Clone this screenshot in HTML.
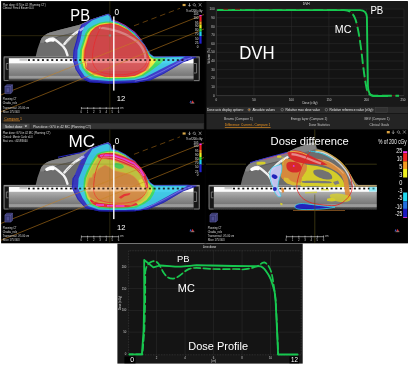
<!DOCTYPE html>
<html lang="en"><head><meta charset="utf-8"><title>PB vs MC dose comparison</title>
<style>html,body{margin:0;padding:0;background:#fff;}svg{display:block}text{font-family:"Liberation Sans",sans-serif;}</style>
</head><body>
<svg width="409" height="366" viewBox="0 0 409 366">
<defs>
<linearGradient id="couchg" x1="0" y1="0" x2="0" y2="1"><stop offset="0" stop-color="#bcbcbc"/><stop offset="0.22" stop-color="#b0b0b0"/><stop offset="0.5" stop-color="#8e8e8e"/><stop offset="0.74" stop-color="#787878"/><stop offset="0.77" stop-color="#9c9c9c"/><stop offset="0.86" stop-color="#989898"/><stop offset="0.89" stop-color="#5c5c5c"/><stop offset="1" stop-color="#1c1c1c"/></linearGradient>
<clipPath id="cpAl"><rect x="1" y="1" width="201" height="113"/></clipPath>
<clipPath id="cpCl"><rect x="1" y="1" width="201" height="114.5"/></clipPath>
<clipPath id="cpDl"><rect x="2" y="1" width="169.8" height="114.5"/></clipPath>
<clipPath id="cpA"><rect x="1" y="1" width="203.5" height="113"/></clipPath>
<clipPath id="cpC"><rect x="1" y="129.5" width="203.5" height="113.8"/></clipPath>
<clipPath id="cpD"><rect x="206" y="129.5" width="201.9" height="113.8"/></clipPath>
<filter id="bl" x="-5%" y="-5%" width="110%" height="110%"><feGaussianBlur stdDeviation="0.45"/></filter>
<filter id="bl2" x="-5%" y="-5%" width="110%" height="110%"><feGaussianBlur stdDeviation="0.3"/></filter>
</defs>
<rect width="409" height="366" fill="#ffffff"/>
<rect x="1.1" y="1.1" width="406.8" height="242.2" fill="#000000"/>
<g id="panelPB" clip-path="url(#cpA)">
<g filter="url(#bl)">
<g transform="translate(0,0)" clip-path="url(#cpAl)">
<polygon points="35.5,57.2 37.5,49.0 39.6,43.0 41.5,38.5 44.0,35.7 47.0,33.8 49.9,32.4 60.0,29.8 70.0,27.2 79.6,24.7 86.0,22.0 91.0,19.6 100.0,16.4 105.0,14.8 108.2,13.8 110.6,15.6 112.0,20.0 118.0,22.0 125.0,25.5 135.0,32.6 144.6,44.4 150.4,54.0 154.4,57.2" fill="#6d6d6d"/>
<polygon points="40.6,40.5 41.5,38.5 44.0,35.7 47.0,33.8 49.9,32.4 60.0,29.8 79.6,24.7 91.0,19.6 100.0,16.4 108.2,13.8 110.6,15.6 111.0,20.5 100.0,23.5 90.0,27.0 80.0,31.0 60.0,36.0 50.0,39.5 44.0,42.8 40.2,43.0" fill="#848484"/>
<polyline points="44.0,43.0 50.0,39.8 60.0,36.3 80.0,31.3 88.0,28.3" fill="none" stroke="#575757" stroke-width="0.8"/>
<path d="M46.4,40.8 C48.6,39.4 51,38.4 53.4,38.6 C55.5,39.6 57.6,41.6 60,43.6 C62.4,45.4 64.3,47 65.6,50 C66.4,52 67,53.8 67.5,55.4" fill="none" stroke="#f2f2f2" stroke-width="2.4" stroke-linecap="round"/>
<path d="M64.4,44 C66.4,41.6 68.2,39.6 69.8,38.2 C71.8,36.2 73.8,34.4 75.6,33.1 C77.4,31.8 79.6,30.4 82.4,28.8" fill="none" stroke="#eeeeee" stroke-width="2.5" stroke-linecap="round"/>
<path d="M47.2,40.9 C49,39.9 51.4,39.6 53.2,40.2" fill="none" stroke="#ffffff" stroke-width="3.2" stroke-linecap="round"/>
<path d="M66,42.6 C69,39.4 72.5,36 76,33.4" fill="none" stroke="#b4b4b4" stroke-width="0.8"/>
<rect x="3.7" y="56.4" width="196" height="1.2" fill="#909090"/><rect x="3.7" y="57.6" width="196" height="0.9" fill="#4a4a4a"/>
<rect x="3.7" y="58.1" width="196" height="23.4" fill="url(#couchg)"/>
<rect x="8.8" y="58.5" width="185" height="4.8" fill="#fcfcfc"/>
<rect x="19.5" y="58.4" width="8" height="2.4" fill="#c9c9c9"/>
<rect x="28.00" y="59.2" width="2.0" height="1.7" fill="#101010"/><rect x="32.65" y="59.2" width="2.0" height="1.7" fill="#101010"/><rect x="37.30" y="59.2" width="2.0" height="1.7" fill="#101010"/><rect x="41.95" y="59.2" width="2.0" height="1.7" fill="#101010"/><rect x="46.60" y="59.2" width="2.0" height="1.7" fill="#101010"/><rect x="51.25" y="59.2" width="2.0" height="1.7" fill="#101010"/><rect x="55.90" y="59.2" width="2.0" height="1.7" fill="#101010"/><rect x="60.55" y="59.2" width="2.0" height="1.7" fill="#101010"/><rect x="65.20" y="59.2" width="2.0" height="1.7" fill="#101010"/><rect x="69.85" y="59.2" width="2.0" height="1.7" fill="#101010"/><rect x="74.50" y="59.2" width="2.0" height="1.7" fill="#101010"/><rect x="79.15" y="59.2" width="2.0" height="1.7" fill="#101010"/><rect x="83.80" y="59.2" width="2.0" height="1.7" fill="#101010"/><rect x="88.45" y="59.2" width="2.0" height="1.7" fill="#101010"/><rect x="93.10" y="59.2" width="2.0" height="1.7" fill="#101010"/><rect x="97.75" y="59.2" width="2.0" height="1.7" fill="#101010"/><rect x="102.40" y="59.2" width="2.0" height="1.7" fill="#101010"/><rect x="107.05" y="59.2" width="2.0" height="1.7" fill="#101010"/><rect x="111.70" y="59.2" width="2.0" height="1.7" fill="#101010"/><rect x="116.35" y="59.2" width="2.0" height="1.7" fill="#101010"/><rect x="121.00" y="59.2" width="2.0" height="1.7" fill="#101010"/><rect x="125.65" y="59.2" width="2.0" height="1.7" fill="#101010"/><rect x="130.30" y="59.2" width="2.0" height="1.7" fill="#101010"/><rect x="134.95" y="59.2" width="2.0" height="1.7" fill="#101010"/><rect x="139.60" y="59.2" width="2.0" height="1.7" fill="#101010"/><rect x="144.25" y="59.2" width="2.0" height="1.7" fill="#101010"/><rect x="148.90" y="59.2" width="2.0" height="1.7" fill="#101010"/><rect x="153.55" y="59.2" width="2.0" height="1.7" fill="#101010"/><rect x="158.20" y="59.2" width="2.0" height="1.7" fill="#101010"/><rect x="162.85" y="59.2" width="2.0" height="1.7" fill="#101010"/><rect x="167.50" y="59.2" width="2.0" height="1.7" fill="#101010"/><rect x="172.15" y="59.2" width="2.0" height="1.7" fill="#101010"/><rect x="176.80" y="59.2" width="2.0" height="1.7" fill="#101010"/><rect x="181.45" y="59.2" width="2.0" height="1.7" fill="#101010"/><rect x="186.10" y="59.2" width="2.0" height="1.7" fill="#101010"/>
<rect x="3.7" y="58.1" width="5.1" height="23" fill="#161616"/>
<path d="M4.2,57 V80.5 M4.2,80.5 H8.6 M8.4,63.5 H6.3 V69.3 H8.4" fill="none" stroke="#8a8a8a" stroke-width="0.8"/>
<rect x="193.6" y="58.1" width="6" height="23.4" fill="#161616"/>
<path d="M199.2,57 V80.5 M199.2,80.5 H193.8 M194,63.5 H196.6 V73 H194" fill="none" stroke="#8a8a8a" stroke-width="0.8"/>
</g>
<g transform="translate(0,0)" opacity="0.88">
<polygon points="108.2,13.8 110.6,15.6 112.0,20.0 118.0,22.0 125.0,25.5 135.0,32.6 144.6,44.4 150.4,54.0 154.4,56.8 164.0,56.5 187.6,56.0 197.0,57.0 183.7,61.7 164.0,73.5 150.4,80.3 134.8,82.9 109.0,83.7 89.4,82.3 81.5,78.4 75.7,69.6 72.7,59.8 73.5,50.0 76.6,39.4 78.5,31.0 81.5,24.5 91.3,19.4 100.0,16.4 105.0,14.8" fill="#3434d2"/>
<path d="M196,57.3 L183,62 L164,73.2 L150.4,79.8 L134.8,82.4 L109,83.2 L89.6,81.8 L82,78 L76.2,69.4 L73.3,59.8 L74.2,50 L77.2,39.6 L79.2,31 L82,25" fill="none" stroke="#1a1ab8" stroke-width="0.9"/>
<path d="M192,57.4 L180,62 L164,70.6 L147,78.8 L134.8,81.2" fill="none" stroke="#7a7af0" stroke-width="0.8"/>
<path d="M79.6,30.6 C81,29.6 82.6,28.7 84.4,27.8" fill="none" stroke="#a4a4f2" stroke-width="2.3"/>
<polygon points="107.8,14.8 110.0,16.8 111.5,21.0 118.0,22.7 125.0,26.2 134.5,33.2 144.0,44.8 149.8,54.3 154.4,57.3 164.0,57.2 175.0,57.0 185.0,56.8 175.0,62.0 164.0,67.6 144.6,77.4 134.8,80.0 125.0,80.5 109.0,81.0 91.0,79.6 84.5,76.0 79.5,68.5 77.3,59.8 77.5,50.0 80.5,39.4 82.0,32.0 84.6,26.4 92.0,20.4 100.0,17.3 104.5,15.9" fill="#34cdee"/>
<polyline points="112.4,19.8 118.0,21.8 125.0,25.2 135.0,32.3 142.0,40.6" fill="none" stroke="#e23cc8" stroke-width="0.7"/>
<polygon points="106.0,21.5 111.0,21.8 118.0,23.3 125.0,26.8 134.0,33.8 143.5,45.2 149.2,54.6 153.0,57.8 158.0,58.2 166.0,58.0 160.0,64.0 150.0,71.5 143.0,76.0 134.5,78.5 125.0,79.0 109.0,79.3 93.0,77.6 87.0,74.0 82.0,68.0 79.6,59.8 80.0,50.0 83.5,39.4 85.5,33.0 88.5,28.5 94.0,25.0 100.0,22.5" fill="#35e060"/>
<polygon points="106.0,22.8 111.0,22.8 118.0,24.0 125.0,27.4 133.5,34.4 143.0,45.6 148.6,55.0 152.0,58.5 157.0,59.5 153.0,65.0 147.0,71.0 141.5,75.0 134.5,77.3 125.0,77.8 109.0,78.0 95.0,76.0 89.0,72.5 84.0,68.0 81.5,59.8 82.0,50.0 85.4,39.4 87.5,33.5 90.5,29.5 95.0,26.3 100.0,23.8" fill="#f2f032"/>
<polygon points="105.5,23.8 111.0,23.3 118.3,24.8 126.0,28.6 135.5,36.5 143.8,45.8 148.6,55.5 151.0,59.5 149.5,66.0 145.8,70.8 138.0,75.0 125.0,77.2 107.0,77.2 94.0,74.4 87.5,70.5 83.8,66.0 83.0,59.8 83.6,50.0 87.4,37.4 90.5,31.5 95.0,27.0 100.0,24.8" fill="#f59a28"/>
<polygon points="105.0,24.7 111.0,23.8 118.7,25.7 128.0,30.5 138.0,39.0 144.6,46.0 148.3,56.0 149.5,60.0 147.5,66.0 144.6,70.5 134.8,75.4 125.0,76.5 105.0,76.4 93.3,72.5 86.4,68.6 84.5,59.8 85.0,50.0 89.4,35.4 92.0,31.0 96.0,27.5 100.0,25.5" fill="#dc4246"/>
<path d="M82.2,60 L86.2,59.6 L87,63.5 L86.6,68 L84.2,66.5 L82.6,63 Z" fill="#f2f032"/>
<path d="M99,27.8 C105,28 112,29.4 118.7,31.6 C126,34.2 133,38 138,42.4 C142,46.5 144.4,51 145.2,56 L145.6,60.5" fill="none" stroke="#ee9a9a" stroke-width="2.3" opacity="0.75"/>
<rect x="84.6" y="58.5" width="64.6" height="4.4" fill="#f29a9a" opacity="0.7"/>
<rect x="85" y="63" width="64" height="8" fill="#e06a6a" opacity="0.35"/>
<polygon points="105.0,24.7 111.0,23.8 118.7,25.7 128.0,30.5 138.0,39.0 144.6,46.0 148.3,56.0 149.5,60.0 147.5,66.0 144.6,70.5 134.8,75.4 125.0,76.5 105.0,76.4 93.3,72.5 86.4,68.6 84.5,59.8 85.0,50.0 89.4,35.4 92.0,31.0 96.0,27.5 100.0,25.5" fill="none" stroke="#ff1a1a" stroke-width="0.7"/>
<path d="M92.3,59.5 C92.4,52 94,43 96.4,37 C98,32.5 100,28.5 102.2,25.6" fill="none" stroke="#ff1a1a" stroke-width="0.6"/>
<path d="M92.3,59.5 C92.6,64 94.4,68 98,70.8 C104,74 114,75.2 124,74.6 C132,74 139,71.6 143.4,67.4 C146,64.6 147.2,61.6 147.2,58.6" fill="none" stroke="#ff1a1a" stroke-width="0.6"/>
<circle cx="110" cy="35.5" r="1.2" fill="#a88c90" stroke="#8a7478" stroke-width="0.4"/>
</g>
<rect x="74.50" y="59.20" width="2.0" height="1.7" fill="#1a0a0a" opacity="0.8"/><rect x="79.15" y="59.20" width="2.0" height="1.7" fill="#1a0a0a" opacity="0.8"/><rect x="83.80" y="59.20" width="2.0" height="1.7" fill="#1a0a0a" opacity="0.8"/><rect x="88.45" y="59.20" width="2.0" height="1.7" fill="#1a0a0a" opacity="0.8"/><rect x="93.10" y="59.20" width="2.0" height="1.7" fill="#1a0a0a" opacity="0.8"/><rect x="97.75" y="59.20" width="2.0" height="1.7" fill="#1a0a0a" opacity="0.8"/><rect x="102.40" y="59.20" width="2.0" height="1.7" fill="#1a0a0a" opacity="0.8"/><rect x="107.05" y="59.20" width="2.0" height="1.7" fill="#1a0a0a" opacity="0.8"/><rect x="111.70" y="59.20" width="2.0" height="1.7" fill="#1a0a0a" opacity="0.8"/><rect x="116.35" y="59.20" width="2.0" height="1.7" fill="#1a0a0a" opacity="0.8"/><rect x="121.00" y="59.20" width="2.0" height="1.7" fill="#1a0a0a" opacity="0.8"/><rect x="125.65" y="59.20" width="2.0" height="1.7" fill="#1a0a0a" opacity="0.8"/><rect x="130.30" y="59.20" width="2.0" height="1.7" fill="#1a0a0a" opacity="0.8"/><rect x="134.95" y="59.20" width="2.0" height="1.7" fill="#1a0a0a" opacity="0.8"/><rect x="139.60" y="59.20" width="2.0" height="1.7" fill="#1a0a0a" opacity="0.8"/><rect x="144.25" y="59.20" width="2.0" height="1.7" fill="#1a0a0a" opacity="0.8"/><rect x="148.90" y="59.20" width="2.0" height="1.7" fill="#1a0a0a" opacity="0.8"/><rect x="153.55" y="59.20" width="2.0" height="1.7" fill="#1a0a0a" opacity="0.8"/><rect x="158.20" y="59.20" width="2.0" height="1.7" fill="#1a0a0a" opacity="0.8"/><rect x="162.85" y="59.20" width="2.0" height="1.7" fill="#1a0a0a" opacity="0.8"/><rect x="167.50" y="59.20" width="2.0" height="1.7" fill="#1a0a0a" opacity="0.8"/><rect x="172.15" y="59.20" width="2.0" height="1.7" fill="#1a0a0a" opacity="0.8"/><rect x="176.80" y="59.20" width="2.0" height="1.7" fill="#1a0a0a" opacity="0.8"/><rect x="181.45" y="59.20" width="2.0" height="1.7" fill="#1a0a0a" opacity="0.8"/>
</g>
<g filter="url(#bl2)">
<g transform="translate(0,0)">
<path d="M1,35.7 H73 M143,35.7 H204" stroke="#4a4418" stroke-width="0.7" opacity="0.8"/>
<path d="M109.8,1 V14 M109.8,84 V114" stroke="#4a4418" stroke-width="0.7" opacity="0.8"/>
<path d="M73,35.7 H143 M109.8,14 V84" stroke="#6a6020" stroke-width="0.6" opacity="0.3"/>
<path d="M0,95.3 L204,14.5 M0,112.2 L204,29" stroke="#c9821e" stroke-width="0.6" fill="none" opacity="0.9"/>
<path d="M134,25.8 L180,8.3" stroke="#a06614" stroke-width="0.7" stroke-dasharray="5.5,3.8" fill="none" opacity="0.85"/>
</g>
<g transform="translate(0,0)">
<rect x="199.4" y="15" width="2.2" height="1.5" fill="#f030f0"/>
<rect x="199.4" y="16.5" width="2.2" height="5.0" fill="#f02020"/>
<rect x="199.4" y="21.5" width="2.2" height="3.0" fill="#f59a20"/>
<rect x="199.4" y="24.5" width="2.2" height="4.0" fill="#f0f020"/>
<rect x="199.4" y="28.5" width="2.2" height="3.0" fill="#30e040"/>
<rect x="199.4" y="31.5" width="2.2" height="4.5" fill="#20d0f0"/>
<rect x="199.4" y="36" width="2.2" height="7.7" fill="#2020d0"/>
<text x="198.4" y="15.4" font-size="3.0" fill="#e0e0e0" text-anchor="end" >105</text>
<text x="198.4" y="18.8" font-size="3.0" fill="#e0e0e0" text-anchor="end" >100</text>
<text x="198.4" y="23.6" font-size="3.0" fill="#e0e0e0" text-anchor="end" >95</text>
<text x="198.4" y="27.400000000000002" font-size="3.0" fill="#e0e0e0" text-anchor="end" >90</text>
<text x="198.4" y="31.400000000000002" font-size="3.0" fill="#e0e0e0" text-anchor="end" >80</text>
<text x="198.4" y="35.2" font-size="3.0" fill="#e0e0e0" text-anchor="end" >70</text>
<text x="198.4" y="39.7" font-size="3.0" fill="#e0e0e0" text-anchor="end" >50</text>
<text x="198.4" y="44.1" font-size="3.0" fill="#e0e0e0" text-anchor="end" >25</text>
<text x="198.4" y="47.5" font-size="3.0" fill="#e0e0e0" text-anchor="end" >0</text>
<text x="186" y="11.5" font-size="3.4" fill="#e8e8e8" text-anchor="start" textLength="16.5" lengthAdjust="spacingAndGlyphs">% of 200 cGy</text>
<path d="M182.6,3.9 h3 v2.2 h-3 z" fill="#d8a848"/><path d="M189.5,3.2 v3 M188.4,5 l1.1,1.3 l1.1,-1.3" fill="none" stroke="#e0e0e0" stroke-width="0.6"/><path d="M194.2,3.6 a1.15,1.15 0 1,0 0.1,0 M195.2,5.6 l1.1,1.1" fill="none" stroke="#d0d0d0" stroke-width="0.55"/><path d="M198.8,3.2 l2.6,3.2 M201.4,3.2 l-2.6,3.2" fill="none" stroke="#d0d0d0" stroke-width="0.55"/>
</g>
<g transform="translate(0,0)">
<text x="2.7" y="5.6" font-size="3.5" fill="#dcdcdc" text-anchor="start" textLength="42.9" lengthAdjust="spacingAndGlyphs">Plan dose: G70 in 42 (Planning CT)</text>
<text x="2.7" y="9.3" font-size="3.5" fill="#dcdcdc" text-anchor="start" textLength="31" lengthAdjust="spacingAndGlyphs">Clinical: Pencil Beam v4.0</text>
<path d="M4.9,86.6 l1.7,-1.9 h5.9 v7 l-1.7,1.9 h-5.9 z" fill="#34346c" stroke="#6464a8" stroke-width="0.5"/>
<path d="M4.9,86.6 h5.9 v7 M10.8,86.6 l1.7,-1.9" fill="none" stroke="#7c7cc0" stroke-width="0.45"/>
<path d="M6.6,88.2 h2.6 v3.8 h-2.6 z" fill="#5a5aa0" opacity="0.7"/>
<text x="2.7" y="100.4" font-size="3.4" fill="#dcdcdc" text-anchor="start" textLength="13.8" lengthAdjust="spacingAndGlyphs">Planning CT</text>
<text x="2.7" y="104.45" font-size="3.4" fill="#dcdcdc" text-anchor="start" textLength="14.4" lengthAdjust="spacingAndGlyphs">Chadia_ncls</text>
<text x="2.7" y="108.5" font-size="3.4" fill="#dcdcdc" text-anchor="start" textLength="26.6" lengthAdjust="spacingAndGlyphs">Transversal: -95.00 cm</text>
<text x="2.7" y="112.55" font-size="3.4" fill="#dcdcdc" text-anchor="start" textLength="16.9" lengthAdjust="spacingAndGlyphs">Slice 175/303</text>
<path d="M81.4,108.2 H118.6 M81.4,107 v2.4 M87.6,107.2 v2 M93.8,107.2 v2 M100,107.2 v2 M106.2,107.2 v2 M112.4,107.2 v2 M118.6,107 v2.4" stroke="#e6e6e6" stroke-width="0.6" fill="none"/>
<text x="81.4" y="112.6" font-size="2.8" fill="#d8d8d8" text-anchor="middle" >0</text>
<text x="87.60000000000001" y="112.6" font-size="2.8" fill="#d8d8d8" text-anchor="middle" >1</text>
<text x="93.80000000000001" y="112.6" font-size="2.8" fill="#d8d8d8" text-anchor="middle" >2</text>
<text x="100.0" y="112.6" font-size="2.8" fill="#d8d8d8" text-anchor="middle" >3</text>
<text x="106.2" y="112.6" font-size="2.8" fill="#d8d8d8" text-anchor="middle" >4</text>
<text x="112.4" y="112.6" font-size="2.8" fill="#d8d8d8" text-anchor="middle" >5</text>
<text x="118.60000000000001" y="112.6" font-size="2.8" fill="#d8d8d8" text-anchor="middle" >6</text>
<text x="120" y="108.6" font-size="2.6" fill="#d0d0d0" text-anchor="start" >cm</text>
<path d="M189.4,103 l1.3,-2.6 l1,1.6 z" fill="#3a5ad8"/><path d="M191.4,103 l1.2,-2.8 l1.4,2.8 z" fill="#e03030"/><path d="M190.4,103.2 h4" stroke="#dddddd" stroke-width="0.5"/>
</g>
</g>
<rect x="113.1" y="16.4" width="1.4" height="74.2" fill="#ffffff"/>
<text x="116.7" y="15.4" font-size="8.2" fill="#ffffff" text-anchor="middle">0</text>
<text x="116.7" y="101.1" font-size="8.1" fill="#ffffff" textLength="8.5" lengthAdjust="spacingAndGlyphs">12</text>
<text x="70.3" y="20.8" font-size="16.4" fill="#ffffff" textLength="19.7" lengthAdjust="spacingAndGlyphs">PB</text>
</g>
<g id="panelMC" clip-path="url(#cpC)">
<g filter="url(#bl)">
<g transform="translate(0,128.5)" clip-path="url(#cpCl)">
<polygon points="35.5,57.2 37.5,49.0 39.6,43.0 41.5,38.5 44.0,35.7 47.0,33.8 49.9,32.4 60.0,29.8 70.0,27.2 79.6,24.7 86.0,22.0 91.0,19.6 100.0,16.4 105.0,14.8 108.2,13.8 110.6,15.6 112.0,20.0 118.0,22.0 125.0,25.5 135.0,32.6 144.6,44.4 150.4,54.0 154.4,57.2" fill="#6d6d6d"/>
<polygon points="40.6,40.5 41.5,38.5 44.0,35.7 47.0,33.8 49.9,32.4 60.0,29.8 79.6,24.7 91.0,19.6 100.0,16.4 108.2,13.8 110.6,15.6 111.0,20.5 100.0,23.5 90.0,27.0 80.0,31.0 60.0,36.0 50.0,39.5 44.0,42.8 40.2,43.0" fill="#848484"/>
<polyline points="44.0,43.0 50.0,39.8 60.0,36.3 80.0,31.3 88.0,28.3" fill="none" stroke="#575757" stroke-width="0.8"/>
<path d="M46.4,40.8 C48.6,39.4 51,38.4 53.4,38.6 C55.5,39.6 57.6,41.6 60,43.6 C62.4,45.4 64.3,47 65.6,50 C66.4,52 67,53.8 67.5,55.4" fill="none" stroke="#f2f2f2" stroke-width="2.4" stroke-linecap="round"/>
<path d="M64.4,44 C66.4,41.6 68.2,39.6 69.8,38.2 C71.8,36.2 73.8,34.4 75.6,33.1 C77.4,31.8 79.6,30.4 82.4,28.8" fill="none" stroke="#eeeeee" stroke-width="2.5" stroke-linecap="round"/>
<path d="M47.2,40.9 C49,39.9 51.4,39.6 53.2,40.2" fill="none" stroke="#ffffff" stroke-width="3.2" stroke-linecap="round"/>
<path d="M66,42.6 C69,39.4 72.5,36 76,33.4" fill="none" stroke="#b4b4b4" stroke-width="0.8"/>
<rect x="3.7" y="56.4" width="196" height="1.2" fill="#909090"/><rect x="3.7" y="57.6" width="196" height="0.9" fill="#4a4a4a"/>
<rect x="3.7" y="58.1" width="196" height="23.4" fill="url(#couchg)"/>
<rect x="8.8" y="58.5" width="185" height="4.8" fill="#fcfcfc"/>
<rect x="19.5" y="58.4" width="8" height="2.4" fill="#c9c9c9"/>
<rect x="28.00" y="59.2" width="2.0" height="1.7" fill="#101010"/><rect x="32.65" y="59.2" width="2.0" height="1.7" fill="#101010"/><rect x="37.30" y="59.2" width="2.0" height="1.7" fill="#101010"/><rect x="41.95" y="59.2" width="2.0" height="1.7" fill="#101010"/><rect x="46.60" y="59.2" width="2.0" height="1.7" fill="#101010"/><rect x="51.25" y="59.2" width="2.0" height="1.7" fill="#101010"/><rect x="55.90" y="59.2" width="2.0" height="1.7" fill="#101010"/><rect x="60.55" y="59.2" width="2.0" height="1.7" fill="#101010"/><rect x="65.20" y="59.2" width="2.0" height="1.7" fill="#101010"/><rect x="69.85" y="59.2" width="2.0" height="1.7" fill="#101010"/><rect x="74.50" y="59.2" width="2.0" height="1.7" fill="#101010"/><rect x="79.15" y="59.2" width="2.0" height="1.7" fill="#101010"/><rect x="83.80" y="59.2" width="2.0" height="1.7" fill="#101010"/><rect x="88.45" y="59.2" width="2.0" height="1.7" fill="#101010"/><rect x="93.10" y="59.2" width="2.0" height="1.7" fill="#101010"/><rect x="97.75" y="59.2" width="2.0" height="1.7" fill="#101010"/><rect x="102.40" y="59.2" width="2.0" height="1.7" fill="#101010"/><rect x="107.05" y="59.2" width="2.0" height="1.7" fill="#101010"/><rect x="111.70" y="59.2" width="2.0" height="1.7" fill="#101010"/><rect x="116.35" y="59.2" width="2.0" height="1.7" fill="#101010"/><rect x="121.00" y="59.2" width="2.0" height="1.7" fill="#101010"/><rect x="125.65" y="59.2" width="2.0" height="1.7" fill="#101010"/><rect x="130.30" y="59.2" width="2.0" height="1.7" fill="#101010"/><rect x="134.95" y="59.2" width="2.0" height="1.7" fill="#101010"/><rect x="139.60" y="59.2" width="2.0" height="1.7" fill="#101010"/><rect x="144.25" y="59.2" width="2.0" height="1.7" fill="#101010"/><rect x="148.90" y="59.2" width="2.0" height="1.7" fill="#101010"/><rect x="153.55" y="59.2" width="2.0" height="1.7" fill="#101010"/><rect x="158.20" y="59.2" width="2.0" height="1.7" fill="#101010"/><rect x="162.85" y="59.2" width="2.0" height="1.7" fill="#101010"/><rect x="167.50" y="59.2" width="2.0" height="1.7" fill="#101010"/><rect x="172.15" y="59.2" width="2.0" height="1.7" fill="#101010"/><rect x="176.80" y="59.2" width="2.0" height="1.7" fill="#101010"/><rect x="181.45" y="59.2" width="2.0" height="1.7" fill="#101010"/><rect x="186.10" y="59.2" width="2.0" height="1.7" fill="#101010"/>
<rect x="3.7" y="58.1" width="5.1" height="23" fill="#161616"/>
<path d="M4.2,57 V80.5 M4.2,80.5 H8.6 M8.4,63.5 H6.3 V69.3 H8.4" fill="none" stroke="#8a8a8a" stroke-width="0.8"/>
<rect x="193.6" y="58.1" width="6" height="23.4" fill="#161616"/>
<path d="M199.2,57 V80.5 M199.2,80.5 H193.8 M194,63.5 H196.6 V73 H194" fill="none" stroke="#8a8a8a" stroke-width="0.8"/>
</g>
<g transform="translate(0,128.5)" opacity="0.88">
<polygon points="108.2,13.8 110.6,15.6 112.0,20.0 118.0,22.0 125.0,25.5 135.0,32.6 144.6,44.4 150.4,54.0 154.4,56.8 164.0,56.5 187.6,56.3 197.4,57.3 183.7,62.2 164.0,74.0 148.5,80.8 134.8,82.8 109.0,83.0 99.0,82.8 85.4,79.8 77.6,71.0 71.7,59.3 72.5,50.0 74.7,46.5 79.6,34.9 83.5,26.8 91.3,19.4 100.0,16.4 105.0,14.8" fill="#3030c8"/>
<path d="M196,57.8 L183,62.5 L164,73.6 L148.5,80.3 L134.8,82.3 L109,82.5 L99,82.3 L85.8,79.3 L78.2,70.8 L72.4,59.3 L73.2,50 L75.4,46.5" fill="none" stroke="#1a1ab0" stroke-width="0.9"/>
<path d="M192,57.8 L180,62.4 L164,71 L147,79.2 L134.8,81.4" fill="none" stroke="#7a7af0" stroke-width="0.8"/>
<polyline points="58.0,28.7 70.0,26.3 79.6,24.4 85.4,22.5" fill="none" stroke="#2a2ad8" stroke-width="1.1"/>
<path d="M79.6,30.6 C81,29.6 82.6,28.7 84.4,27.8" fill="none" stroke="#a4a4f2" stroke-width="2.3"/>
<polygon points="107.6,15.2 110.0,17.0 111.5,21.0 118.0,22.7 125.0,26.2 134.5,33.2 144.0,44.8 149.8,54.3 154.4,57.3 164.0,57.2 175.0,57.2 187.6,57.3 174.0,64.2 154.4,74.9 140.7,80.8 125.0,81.6 109.0,81.6 99.0,81.2 88.0,77.4 82.5,69.5 78.0,59.5 78.6,50.0 83.0,39.2 87.4,29.0 92.4,20.4 100.0,17.3 104.5,15.9" fill="#34cdee"/>
<polygon points="106.0,22.6 111.0,22.2 118.0,23.3 125.0,26.8 134.0,33.8 143.5,45.2 149.2,54.6 153.5,58.3 156.0,60.3 153.5,66.0 150.4,71.0 144.0,75.6 136.7,78.9 125.0,80.0 109.0,80.2 99.0,79.8 90.5,76.2 86.0,69.5 83.3,59.5 84.0,50.0 86.6,43.0 90.4,35.6 94.2,29.1 97.0,25.2 101.0,23.4" fill="#35e060"/>
<polygon points="106.0,23.8 111.0,23.0 118.0,24.0 125.0,27.4 133.5,34.4 143.0,45.6 148.6,55.0 151.5,58.8 152.5,62.0 150.0,67.0 146.5,71.5 141.0,75.3 134.5,77.8 125.0,78.8 109.0,79.0 99.0,78.4 92.0,75.4 87.5,69.5 84.8,59.5 86.0,50.0 88.6,43.5 92.0,36.4 95.5,30.5 98.5,26.8 101.5,24.8" fill="#dcdc38"/>
<polygon points="105.5,24.9 111.0,24.0 118.3,25.0 126.0,28.6 135.5,36.5 143.3,46.0 147.8,55.5 149.6,60.0 147.5,66.5 143.5,71.5 137.0,75.3 125.0,77.7 107.0,77.9 99.0,77.2 93.5,74.0 89.5,69.0 86.0,59.8 86.4,50.0 89.6,43.6 93.0,37.3 96.8,31.5 99.5,27.8 102.0,25.8" fill="#c9cc3c"/>
<polygon points="97.6,26.4 101.0,25.2 106.0,24.6 113.8,24.6 124.0,28.0 134.3,32.6 141.0,39.0 145.6,46.0 147.6,53.0 148.2,59.5 146.0,59.5 144.0,53.0 141.7,47.5 138.0,43.0 134.3,39.8 124.0,35.5 113.8,31.8 106.0,30.5 100.0,30.0 97.6,28.6" fill="#ee2436"/>
<polyline points="100.0,27.4 106.0,26.6 113.8,27.0 124.0,30.6 134.3,35.2 140.4,41.0 144.0,47.4" fill="none" stroke="#f638ee" stroke-width="1.6"/>
<polyline points="101.0,29.0 106.0,28.6 113.8,29.4 124.0,33.0 134.3,37.6 139.4,42.4 142.8,48.0 145.0,54.0 146.8,59.0" fill="none" stroke="#ff8a9a" stroke-width="0.8"/>
<polyline points="100.0,30.2 106.0,30.4 113.8,31.6 124.0,35.3 134.3,39.8 138.0,43.2 141.4,48.0 143.8,54.0 145.4,59.5" fill="none" stroke="#f0902a" stroke-width="0.8"/>
<ellipse cx="118.6" cy="37.4" rx="5.4" ry="2.6" fill="#44d656" transform="rotate(14 118.6 37.4)"/>
<path d="M138.7,51.5 L142,50.5 L144.6,55 L145,60 L142,60.5 L140,56 Z" fill="#ece43a"/>
<polygon points="90.8,70.5 94.0,73.0 99.0,74.2 110.0,75.4 118.7,76.0 128.0,75.8 136.0,74.2 138.0,76.4 128.0,78.7 118.7,79.1 108.0,78.9 99.0,78.2 93.0,75.8 90.0,72.3" fill="#ee2030"/>
<path d="M96,76.4 H104 M107,77.2 H113 M115.5,77.4 H124.5" stroke="#f638ee" stroke-width="1.5" fill="none"/>
<polygon points="101.7,38.4 105.0,36.6 109.0,38.4 113.8,42.0 122.0,44.0 130.0,45.7 134.0,48.0 137.3,51.5 139.4,55.0 141.0,58.2 144.6,61.0 145.3,63.2 143.5,67.5 140.7,71.0 136.0,74.0 130.9,76.6 118.7,75.2 99.0,73.4 93.0,70.8 89.4,68.6 86.6,61.5 87.6,55.0 89.2,49.4 92.0,49.0 93.0,45.6 96.5,43.5 98.0,40.6" fill="#d98a3c"/>
<polygon points="101.7,38.4 105.0,36.6 109.0,38.4 113.8,42.0 122.0,44.0 130.0,45.7 134.0,48.0 137.3,51.5 139.4,55.0 141.0,58.2 144.6,61.0 145.3,63.2 143.5,67.5 140.7,71.0 136.0,74.0 130.9,76.6 118.7,75.2 99.0,73.4 93.0,70.8 89.4,68.6 86.6,61.5 87.6,55.0 89.2,49.4 92.0,49.0 93.0,45.6 96.5,43.5 98.0,40.6" fill="none" stroke="#f09a30" stroke-width="0.6"/>
<rect x="86" y="58.5" width="59" height="4.4" fill="#f6c89a" opacity="0.7"/>
<path d="M118.7,68.8 L124,65.4 L130.5,64.4 L129.4,66.6 L124.6,67.7 L121,70.2 Z" fill="#ee2828"/>
<path d="M104.6,25.9 C101,30 98.4,35 96.5,40.5 C94.6,46.5 93.6,53 93.6,61.5" fill="none" stroke="#ff1a1a" stroke-width="0.7"/>
<path d="M93.6,61.5 C94,65.5 95.6,68.6 98.6,71 C104,74 114,75.2 124,74.6 C132,74 139,71.6 143.4,67.4 C146,64.6 147.2,61.6 147.2,58.6" fill="none" stroke="#ff1a1a" stroke-width="0.6"/>
</g>
<rect x="74.50" y="187.70" width="2.0" height="1.7" fill="#1a0a0a" opacity="0.8"/><rect x="79.15" y="187.70" width="2.0" height="1.7" fill="#1a0a0a" opacity="0.8"/><rect x="83.80" y="187.70" width="2.0" height="1.7" fill="#1a0a0a" opacity="0.8"/><rect x="88.45" y="187.70" width="2.0" height="1.7" fill="#1a0a0a" opacity="0.8"/><rect x="93.10" y="187.70" width="2.0" height="1.7" fill="#1a0a0a" opacity="0.8"/><rect x="97.75" y="187.70" width="2.0" height="1.7" fill="#1a0a0a" opacity="0.8"/><rect x="102.40" y="187.70" width="2.0" height="1.7" fill="#1a0a0a" opacity="0.8"/><rect x="107.05" y="187.70" width="2.0" height="1.7" fill="#1a0a0a" opacity="0.8"/><rect x="111.70" y="187.70" width="2.0" height="1.7" fill="#1a0a0a" opacity="0.8"/><rect x="116.35" y="187.70" width="2.0" height="1.7" fill="#1a0a0a" opacity="0.8"/><rect x="121.00" y="187.70" width="2.0" height="1.7" fill="#1a0a0a" opacity="0.8"/><rect x="125.65" y="187.70" width="2.0" height="1.7" fill="#1a0a0a" opacity="0.8"/><rect x="130.30" y="187.70" width="2.0" height="1.7" fill="#1a0a0a" opacity="0.8"/><rect x="134.95" y="187.70" width="2.0" height="1.7" fill="#1a0a0a" opacity="0.8"/><rect x="139.60" y="187.70" width="2.0" height="1.7" fill="#1a0a0a" opacity="0.8"/><rect x="144.25" y="187.70" width="2.0" height="1.7" fill="#1a0a0a" opacity="0.8"/><rect x="148.90" y="187.70" width="2.0" height="1.7" fill="#1a0a0a" opacity="0.8"/><rect x="153.55" y="187.70" width="2.0" height="1.7" fill="#1a0a0a" opacity="0.8"/><rect x="158.20" y="187.70" width="2.0" height="1.7" fill="#1a0a0a" opacity="0.8"/><rect x="162.85" y="187.70" width="2.0" height="1.7" fill="#1a0a0a" opacity="0.8"/><rect x="167.50" y="187.70" width="2.0" height="1.7" fill="#1a0a0a" opacity="0.8"/><rect x="172.15" y="187.70" width="2.0" height="1.7" fill="#1a0a0a" opacity="0.8"/><rect x="176.80" y="187.70" width="2.0" height="1.7" fill="#1a0a0a" opacity="0.8"/><rect x="181.45" y="187.70" width="2.0" height="1.7" fill="#1a0a0a" opacity="0.8"/>
</g>
<g filter="url(#bl2)">
<g transform="translate(0,128.5)">
<path d="M1,35.7 H73 M143,35.7 H204" stroke="#4a4418" stroke-width="0.7" opacity="0.8"/>
<path d="M109.8,1 V14 M109.8,84 V114" stroke="#4a4418" stroke-width="0.7" opacity="0.8"/>
<path d="M73,35.7 H143 M109.8,14 V84" stroke="#6a6020" stroke-width="0.6" opacity="0.3"/>
<path d="M0,95.3 L204,14.5 M0,112.2 L204,29" stroke="#c9821e" stroke-width="0.6" fill="none" opacity="0.9"/>
<path d="M134,25.8 L180,8.3" stroke="#a06614" stroke-width="0.7" stroke-dasharray="5.5,3.8" fill="none" opacity="0.85"/>
</g>
<g transform="translate(0,128.5)">
<rect x="199.4" y="15" width="2.2" height="1.5" fill="#f030f0"/>
<rect x="199.4" y="16.5" width="2.2" height="5.0" fill="#f02020"/>
<rect x="199.4" y="21.5" width="2.2" height="3.0" fill="#f59a20"/>
<rect x="199.4" y="24.5" width="2.2" height="4.0" fill="#f0f020"/>
<rect x="199.4" y="28.5" width="2.2" height="3.0" fill="#30e040"/>
<rect x="199.4" y="31.5" width="2.2" height="4.5" fill="#20d0f0"/>
<rect x="199.4" y="36" width="2.2" height="7.7" fill="#2020d0"/>
<text x="198.4" y="15.4" font-size="3.0" fill="#e0e0e0" text-anchor="end" >105</text>
<text x="198.4" y="18.8" font-size="3.0" fill="#e0e0e0" text-anchor="end" >100</text>
<text x="198.4" y="23.6" font-size="3.0" fill="#e0e0e0" text-anchor="end" >95</text>
<text x="198.4" y="27.400000000000002" font-size="3.0" fill="#e0e0e0" text-anchor="end" >90</text>
<text x="198.4" y="31.400000000000002" font-size="3.0" fill="#e0e0e0" text-anchor="end" >80</text>
<text x="198.4" y="35.2" font-size="3.0" fill="#e0e0e0" text-anchor="end" >70</text>
<text x="198.4" y="39.7" font-size="3.0" fill="#e0e0e0" text-anchor="end" >50</text>
<text x="198.4" y="44.1" font-size="3.0" fill="#e0e0e0" text-anchor="end" >25</text>
<text x="198.4" y="47.5" font-size="3.0" fill="#e0e0e0" text-anchor="end" >0</text>
<text x="186" y="11.5" font-size="3.4" fill="#e8e8e8" text-anchor="start" textLength="16.5" lengthAdjust="spacingAndGlyphs">% of 200 cGy</text>
<path d="M182.6,3.9 h3 v2.2 h-3 z" fill="#d8a848"/><path d="M189.5,3.2 v3 M188.4,5 l1.1,1.3 l1.1,-1.3" fill="none" stroke="#e0e0e0" stroke-width="0.6"/><path d="M194.2,3.6 a1.15,1.15 0 1,0 0.1,0 M195.2,5.6 l1.1,1.1" fill="none" stroke="#d0d0d0" stroke-width="0.55"/><path d="M198.8,3.2 l2.6,3.2 M201.4,3.2 l-2.6,3.2" fill="none" stroke="#d0d0d0" stroke-width="0.55"/>
</g>
<g transform="translate(0,128.5)">
<text x="2.7" y="5.6" font-size="3.5" fill="#dcdcdc" text-anchor="start" textLength="47.8" lengthAdjust="spacingAndGlyphs">Plan dose: G70 in 42 MC (Planning CT)</text>
<text x="2.7" y="9.3" font-size="3.5" fill="#dcdcdc" text-anchor="start" textLength="30" lengthAdjust="spacingAndGlyphs">Clinical: Monte Carlo v4.0</text>
<text x="2.7" y="13.0" font-size="3.5" fill="#dcdcdc" text-anchor="start" textLength="25" lengthAdjust="spacingAndGlyphs">Stat. unc.: 4059/3660</text>
<path d="M4.9,86.6 l1.7,-1.9 h5.9 v7 l-1.7,1.9 h-5.9 z" fill="#34346c" stroke="#6464a8" stroke-width="0.5"/>
<path d="M4.9,86.6 h5.9 v7 M10.8,86.6 l1.7,-1.9" fill="none" stroke="#7c7cc0" stroke-width="0.45"/>
<path d="M6.6,88.2 h2.6 v3.8 h-2.6 z" fill="#5a5aa0" opacity="0.7"/>
<text x="2.7" y="100.4" font-size="3.4" fill="#dcdcdc" text-anchor="start" textLength="13.8" lengthAdjust="spacingAndGlyphs">Planning CT</text>
<text x="2.7" y="104.45" font-size="3.4" fill="#dcdcdc" text-anchor="start" textLength="14.4" lengthAdjust="spacingAndGlyphs">Chadia_ncls</text>
<text x="2.7" y="108.5" font-size="3.4" fill="#dcdcdc" text-anchor="start" textLength="26.6" lengthAdjust="spacingAndGlyphs">Transversal: -95.00 cm</text>
<text x="2.7" y="112.55" font-size="3.4" fill="#dcdcdc" text-anchor="start" textLength="16.9" lengthAdjust="spacingAndGlyphs">Slice 175/303</text>
<path d="M81.4,108.2 H118.6 M81.4,107 v2.4 M87.6,107.2 v2 M93.8,107.2 v2 M100,107.2 v2 M106.2,107.2 v2 M112.4,107.2 v2 M118.6,107 v2.4" stroke="#e6e6e6" stroke-width="0.6" fill="none"/>
<text x="81.4" y="112.6" font-size="2.8" fill="#d8d8d8" text-anchor="middle" >0</text>
<text x="87.60000000000001" y="112.6" font-size="2.8" fill="#d8d8d8" text-anchor="middle" >1</text>
<text x="93.80000000000001" y="112.6" font-size="2.8" fill="#d8d8d8" text-anchor="middle" >2</text>
<text x="100.0" y="112.6" font-size="2.8" fill="#d8d8d8" text-anchor="middle" >3</text>
<text x="106.2" y="112.6" font-size="2.8" fill="#d8d8d8" text-anchor="middle" >4</text>
<text x="112.4" y="112.6" font-size="2.8" fill="#d8d8d8" text-anchor="middle" >5</text>
<text x="118.60000000000001" y="112.6" font-size="2.8" fill="#d8d8d8" text-anchor="middle" >6</text>
<text x="120" y="108.6" font-size="2.6" fill="#d0d0d0" text-anchor="start" >cm</text>
<path d="M189.4,103 l1.3,-2.6 l1,1.6 z" fill="#3a5ad8"/><path d="M191.4,103 l1.2,-2.8 l1.4,2.8 z" fill="#e03030"/><path d="M190.4,103.2 h4" stroke="#dddddd" stroke-width="0.5"/>
</g>
</g>
<rect x="113.1" y="144.9" width="1.4" height="74.2" fill="#ffffff"/>
<text x="117" y="143.9" font-size="8.2" fill="#ffffff" text-anchor="middle">0</text>
<text x="117" y="229.6" font-size="8.1" fill="#ffffff" textLength="8.5" lengthAdjust="spacingAndGlyphs">12</text>
<text x="68.5" y="147.1" font-size="17.1" fill="#ffffff" textLength="26.7" lengthAdjust="spacingAndGlyphs">MC</text>
</g>
<rect x="1" y="114" width="203.5" height="9" fill="#1b1b1b"/>
<rect x="1" y="123" width="203.5" height="6.3" fill="#2c2c2c"/>
<rect x="2.6" y="123.8" width="27" height="4.8" fill="#474747"/>
<rect x="31" y="123.8" width="172" height="4.8" fill="#343434"/>
<g filter="url(#bl2)">
<text x="4.2" y="119.8" font-size="3.6" fill="#e8922a">Compare 1</text>
<rect x="3.6" y="120.6" width="16.4" height="0.6" fill="#e8922a"/>
<text x="5" y="127.5" font-size="3.3" fill="#e6e6e6">Select dose</text>
<path d="M24.6,125.4 h2.6 l-1.3,1.9 z" fill="#e0e0e0"/>
<text x="33" y="127.5" font-size="3.3" fill="#dddddd">Plan dose: G70 in 42 MC (Planning CT)</text>
</g>
<rect x="204.4" y="1.1" width="2" height="242.2" fill="#030303"/>
<g id="panelDVH">
<rect x="206.4" y="2" width="201.5" height="104.5" fill="#191919"/>
<rect x="216.4" y="9" width="187.6" height="86.6" fill="#131313"/>
<path d="M216.4,95.60 H404 M216.4,86.95 H404 M216.4,78.30 H404 M216.4,69.65 H404 M216.4,61.00 H404 M216.4,52.35 H404 M216.4,43.70 H404 M216.4,35.05 H404 M216.4,26.40 H404 M216.4,17.75 H404 M216.4,9.10 H404 M253.90,9.1 V95.6 M291.40,9.1 V95.6 M328.90,9.1 V95.6 M366.40,9.1 V95.6 M403.90,9.1 V95.6" stroke="#2b2b2b" stroke-width="0.6" fill="none"/>
<path d="M216.4,9.1 V95.6 H404" stroke="#454545" stroke-width="0.6" fill="none"/>
<g filter="url(#bl2)">
<text x="214.6" y="96.69999999999999" font-size="3.0" fill="#d0d0d0" text-anchor="end" >0</text>
<text x="214.6" y="88.04999999999998" font-size="3.0" fill="#d0d0d0" text-anchor="end" >10</text>
<text x="214.6" y="79.39999999999999" font-size="3.0" fill="#d0d0d0" text-anchor="end" >20</text>
<text x="214.6" y="70.74999999999999" font-size="3.0" fill="#d0d0d0" text-anchor="end" >30</text>
<text x="214.6" y="62.099999999999994" font-size="3.0" fill="#d0d0d0" text-anchor="end" >40</text>
<text x="214.6" y="53.449999999999996" font-size="3.0" fill="#d0d0d0" text-anchor="end" >50</text>
<text x="214.6" y="44.8" font-size="3.0" fill="#d0d0d0" text-anchor="end" >60</text>
<text x="214.6" y="36.15" font-size="3.0" fill="#d0d0d0" text-anchor="end" >70</text>
<text x="214.6" y="27.499999999999993" font-size="3.0" fill="#d0d0d0" text-anchor="end" >80</text>
<text x="214.6" y="18.85" font-size="3.0" fill="#d0d0d0" text-anchor="end" >90</text>
<text x="214.6" y="10.199999999999994" font-size="3.0" fill="#d0d0d0" text-anchor="end" >100</text>
<text x="216.4" y="100.6" font-size="3.0" fill="#d0d0d0" text-anchor="middle" >0</text>
<text x="253.9" y="100.6" font-size="3.0" fill="#d0d0d0" text-anchor="middle" >50</text>
<text x="291.4" y="100.6" font-size="3.0" fill="#d0d0d0" text-anchor="middle" >100</text>
<text x="328.9" y="100.6" font-size="3.0" fill="#d0d0d0" text-anchor="middle" >150</text>
<text x="366.4" y="100.6" font-size="3.0" fill="#d0d0d0" text-anchor="middle" >200</text>
<text x="403" y="100.6" font-size="3.0" fill="#d0d0d0" text-anchor="middle" >250</text>
<text x="310" y="104.3" font-size="3.0" fill="#d8d8d8" text-anchor="middle" >Dose (cGy)</text>
<text x="306.2" y="5.4" font-size="3.2" fill="#e0e0e0" text-anchor="middle" >DVH</text>
<text transform="translate(210.3,56) rotate(-90)" font-size="3" fill="#d0d0d0" text-anchor="middle">Volume (%)</text>
</g>
<g filter="url(#bl2)" fill="none" stroke-linejoin="round">
<path d="M217,9.4 H344 C350,9.6 353,12.5 355.5,19 C358,26.5 360,40 361.6,52 C363,65 364.6,78 366.6,88 C367.6,92.9 369.5,95.2 373,95.6 H399" stroke="#5a1414" stroke-width="0.9"/>
<path d="M217,10.1 H344 C350,10.3 353,13 355.5,19.5 C358,27 360,40.5 361.6,52.5 C363,65.5 364.6,78.5 366.6,88.3 C367.6,93.2 369.5,95.4 373,95.8 H399" stroke="#18c850" stroke-width="1.9" stroke-dasharray="10,3.6" stroke-dashoffset="-1"/>
<path d="M217,10.1 H360 C364.5,10.2 366.5,12 366.9,17 L367.9,86 C368.2,92.4 369.6,95.6 373.5,96 H388" stroke="#18c850" stroke-width="1.9"/>
<path d="M223.4,9.3 H228 M235,9.3 H240" stroke="#8a1414" stroke-width="0.9"/>
</g>
<text x="239.2" y="59.2" font-size="17.5" fill="#ffffff" textLength="35.4" lengthAdjust="spacingAndGlyphs">DVH</text>
<text x="370.4" y="14.1" font-size="10.4" fill="#ffffff" textLength="12.9" lengthAdjust="spacingAndGlyphs">PB</text>
<text x="334.8" y="33.3" font-size="11.3" fill="#ffffff" textLength="16.6" lengthAdjust="spacingAndGlyphs">MC</text>
<rect x="206.4" y="106.5" width="201.5" height="6.8" fill="#2b2b2b"/>
<rect x="206.4" y="113.3" width="201.5" height="16.2" fill="#242424"/>
<rect x="206.4" y="113.3" width="201.5" height="0.6" fill="#151515"/>
<g filter="url(#bl2)">
<text x="207" y="110.8" font-size="3.2" fill="#e0e0e0" text-anchor="start" >Dose axis display options:</text>
<circle cx="249.2" cy="109.7" r="1.25" fill="#2b2b2b" stroke="#bdbdbd" stroke-width="0.4"/><circle cx="249.2" cy="109.7" r="0.7" fill="#f0941e"/>
<text x="252.4" y="110.8" font-size="3.2" fill="#e6e6e6" text-anchor="start" >Absolute values</text>
<circle cx="282.2" cy="109.7" r="1.25" fill="#2b2b2b" stroke="#bdbdbd" stroke-width="0.4"/>
<text x="285.4" y="110.8" font-size="3.2" fill="#e6e6e6" text-anchor="start" >Relative max dose value</text>
<circle cx="326.4" cy="109.7" r="1.25" fill="#2b2b2b" stroke="#bdbdbd" stroke-width="0.4"/>
<text x="329.6" y="110.8" font-size="3.2" fill="#e6e6e6" text-anchor="start" >Relative reference value (cGy):</text>
<rect x="375.6" y="107.4" width="11.8" height="4.8" fill="#323232" stroke="#4a4a4a" stroke-width="0.4"/>
<text x="238.4" y="119.9" font-size="3.2" fill="#c4c4c4" text-anchor="middle" >Beams (Compare 1)</text>
<text x="309" y="119.9" font-size="3.2" fill="#c4c4c4" text-anchor="middle" >Energy layer (Compare 1)</text>
<text x="377" y="119.9" font-size="3.2" fill="#c4c4c4" text-anchor="middle" >BEV (Compare 1)</text>
<text x="247.6" y="126.2" font-size="3.2" fill="#f0941e" text-anchor="middle" >Difference: Current - Compare 1</text>
<rect x="224.8" y="127.2" width="45.8" height="0.6" fill="#f0941e"/>
<text x="319.4" y="126.2" font-size="3.2" fill="#c4c4c4" text-anchor="middle" >Dose Statistics</text>
<text x="379.3" y="126.2" font-size="3.2" fill="#c4c4c4" text-anchor="middle" >Clinical Goals</text>
</g>
</g>
<g id="panelDiff" clip-path="url(#cpD)">
<rect x="206" y="129.5" width="201.9" height="113.8" fill="#000000"/>
<g filter="url(#bl)">
<g transform="translate(205,128.5)" clip-path="url(#cpDl)">
<polygon points="35.5,57.2 37.5,49.0 39.6,43.0 41.5,38.5 44.0,35.7 47.0,33.8 49.9,32.4 60.0,29.8 70.0,27.2 79.6,24.7 86.0,22.0 91.0,19.6 100.0,16.4 105.0,14.8 108.2,13.8 110.6,15.6 112.0,20.0 118.0,22.0 125.0,25.5 135.0,32.6 144.6,44.4 150.4,54.0 154.4,57.2" fill="#6d6d6d"/>
<polygon points="40.6,40.5 41.5,38.5 44.0,35.7 47.0,33.8 49.9,32.4 60.0,29.8 79.6,24.7 91.0,19.6 100.0,16.4 108.2,13.8 110.6,15.6 111.0,20.5 100.0,23.5 90.0,27.0 80.0,31.0 60.0,36.0 50.0,39.5 44.0,42.8 40.2,43.0" fill="#848484"/>
<polyline points="44.0,43.0 50.0,39.8 60.0,36.3 80.0,31.3 88.0,28.3" fill="none" stroke="#575757" stroke-width="0.8"/>
<path d="M46.4,40.8 C48.6,39.4 51,38.4 53.4,38.6 C55.5,39.6 57.6,41.6 60,43.6 C62.4,45.4 64.3,47 65.6,50 C66.4,52 67,53.8 67.5,55.4" fill="none" stroke="#f2f2f2" stroke-width="2.4" stroke-linecap="round"/>
<path d="M64.4,44 C66.4,41.6 68.2,39.6 69.8,38.2 C71.8,36.2 73.8,34.4 75.6,33.1 C77.4,31.8 79.6,30.4 82.4,28.8" fill="none" stroke="#eeeeee" stroke-width="2.5" stroke-linecap="round"/>
<path d="M47.2,40.9 C49,39.9 51.4,39.6 53.2,40.2" fill="none" stroke="#ffffff" stroke-width="3.2" stroke-linecap="round"/>
<path d="M66,42.6 C69,39.4 72.5,36 76,33.4" fill="none" stroke="#b4b4b4" stroke-width="0.8"/>
<rect x="3.7" y="56.4" width="196" height="1.2" fill="#909090"/><rect x="3.7" y="57.6" width="196" height="0.9" fill="#4a4a4a"/>
<rect x="3.7" y="58.1" width="196" height="23.4" fill="url(#couchg)"/>
<rect x="8.8" y="58.5" width="185" height="4.8" fill="#fcfcfc"/>
<rect x="19.5" y="58.4" width="8" height="2.4" fill="#c9c9c9"/>
<rect x="28.00" y="59.2" width="2.0" height="1.7" fill="#101010"/><rect x="32.65" y="59.2" width="2.0" height="1.7" fill="#101010"/><rect x="37.30" y="59.2" width="2.0" height="1.7" fill="#101010"/><rect x="41.95" y="59.2" width="2.0" height="1.7" fill="#101010"/><rect x="46.60" y="59.2" width="2.0" height="1.7" fill="#101010"/><rect x="51.25" y="59.2" width="2.0" height="1.7" fill="#101010"/><rect x="55.90" y="59.2" width="2.0" height="1.7" fill="#101010"/><rect x="60.55" y="59.2" width="2.0" height="1.7" fill="#101010"/><rect x="65.20" y="59.2" width="2.0" height="1.7" fill="#101010"/><rect x="69.85" y="59.2" width="2.0" height="1.7" fill="#101010"/><rect x="74.50" y="59.2" width="2.0" height="1.7" fill="#101010"/><rect x="79.15" y="59.2" width="2.0" height="1.7" fill="#101010"/><rect x="83.80" y="59.2" width="2.0" height="1.7" fill="#101010"/><rect x="88.45" y="59.2" width="2.0" height="1.7" fill="#101010"/><rect x="93.10" y="59.2" width="2.0" height="1.7" fill="#101010"/><rect x="97.75" y="59.2" width="2.0" height="1.7" fill="#101010"/><rect x="102.40" y="59.2" width="2.0" height="1.7" fill="#101010"/><rect x="107.05" y="59.2" width="2.0" height="1.7" fill="#101010"/><rect x="111.70" y="59.2" width="2.0" height="1.7" fill="#101010"/><rect x="116.35" y="59.2" width="2.0" height="1.7" fill="#101010"/><rect x="121.00" y="59.2" width="2.0" height="1.7" fill="#101010"/><rect x="125.65" y="59.2" width="2.0" height="1.7" fill="#101010"/><rect x="130.30" y="59.2" width="2.0" height="1.7" fill="#101010"/><rect x="134.95" y="59.2" width="2.0" height="1.7" fill="#101010"/><rect x="139.60" y="59.2" width="2.0" height="1.7" fill="#101010"/><rect x="144.25" y="59.2" width="2.0" height="1.7" fill="#101010"/><rect x="148.90" y="59.2" width="2.0" height="1.7" fill="#101010"/><rect x="153.55" y="59.2" width="2.0" height="1.7" fill="#101010"/><rect x="158.20" y="59.2" width="2.0" height="1.7" fill="#101010"/><rect x="162.85" y="59.2" width="2.0" height="1.7" fill="#101010"/><rect x="167.50" y="59.2" width="2.0" height="1.7" fill="#101010"/><rect x="172.15" y="59.2" width="2.0" height="1.7" fill="#101010"/><rect x="176.80" y="59.2" width="2.0" height="1.7" fill="#101010"/><rect x="181.45" y="59.2" width="2.0" height="1.7" fill="#101010"/><rect x="186.10" y="59.2" width="2.0" height="1.7" fill="#101010"/>
<rect x="3.7" y="58.1" width="5.1" height="23" fill="#161616"/>
<path d="M4.2,57 V80.5 M4.2,80.5 H8.6 M8.4,63.5 H6.3 V69.3 H8.4" fill="none" stroke="#8a8a8a" stroke-width="0.8"/>
<rect x="193.6" y="58.1" width="6" height="23.4" fill="#161616"/>
<path d="M199.2,57 V80.5 M199.2,80.5 H193.8 M194,63.5 H196.6 V73 H194" fill="none" stroke="#8a8a8a" stroke-width="0.8"/>
</g>
<g transform="translate(205,128.5)" opacity="0.93">
<polyline points="45.0,34.2 56.0,31.0 68.0,27.6 81.7,23.9" fill="none" stroke="#3030d8" stroke-width="1"/>
<polyline points="58.0,31.4 70.0,28.2 82.0,25.0 88.0,23.0" fill="none" stroke="#d83a7a" stroke-width="0.6"/>
<path d="M110.5,21.6C111.8,21.8 115.3,21.9 118.0,22.8C120.7,23.7 123.9,25.3 126.7,27.0C129.5,28.7 132.6,30.9 135.0,33.0C137.4,35.1 139.3,37.4 141.0,39.6C142.7,41.8 143.7,43.8 145.0,46.0C146.3,48.2 147.6,51.1 148.6,53.0C149.6,54.9 150.6,56.7 151.0,57.4" fill="none" stroke="#e0b040" stroke-width="1.1"/>
<path d="M110.5,23.2C111.8,23.4 115.3,23.4 118.0,24.3C120.7,25.2 123.7,26.8 126.4,28.4C129.1,30.0 131.8,32.2 134.0,34.2C136.2,36.2 138.2,38.5 139.8,40.6C141.4,42.7 142.4,44.8 143.6,47.0C144.8,49.2 146.1,52.2 147.0,54.0C147.9,55.8 148.7,57.3 149.0,58.0" fill="none" stroke="#dcdcdc" stroke-width="1.5"/>
<path d="M104.0,22.6C105.3,22.8 109.3,23.0 112.0,23.6C114.7,24.2 117.3,25.1 120.0,26.3C122.7,27.5 126.7,30.2 128.0,31.0" fill="none" stroke="#30d8f0" stroke-width="0.9"/>
<path d="M98.8,37.1C100.0,36.0 101.8,36.3 104.0,36.4C106.2,36.5 109.3,37.0 112.0,37.5C114.7,38.0 117.3,38.7 120.0,39.5C122.7,40.3 125.7,41.2 128.0,42.5C130.3,43.8 132.3,45.2 134.0,47.0C135.7,48.8 137.5,51.2 138.4,53.0C139.3,54.8 139.9,57.1 139.5,58.0C139.1,58.9 139.2,58.5 136.0,58.5C132.8,58.5 125.3,58.3 120.0,58.2C114.7,58.1 108.0,57.9 104.0,57.8C100.0,57.7 97.4,58.9 96.0,57.6C94.6,56.3 95.3,52.4 95.5,50.0C95.7,47.6 96.5,45.1 97.0,43.0C97.5,40.9 97.6,38.2 98.8,37.1Z" fill="#dcd424"/>
<path d="M109.0,41.8C110.2,41.1 113.7,40.9 116.0,41.2C118.3,41.5 121.2,42.6 123.0,43.6C124.8,44.6 126.1,45.8 126.7,47.0C127.3,48.2 127.6,50.0 126.5,50.6C125.4,51.2 122.2,51.1 120.0,50.8C117.8,50.4 114.8,49.4 113.0,48.5C111.2,47.6 109.7,46.6 109.0,45.5C108.3,44.4 107.8,42.5 109.0,41.8Z" fill="#737373"/>
<path d="M98.0,52.6C100.0,52.3 105.5,52.2 110.0,52.3C114.5,52.4 122.5,52.6 125.0,53.0C127.5,53.4 127.5,54.5 125.0,54.7C122.5,55.0 114.5,54.6 110.0,54.5C105.5,54.4 100.0,54.5 98.0,54.2C96.0,53.9 96.0,52.9 98.0,52.6Z" fill="#7a7a7a"/>
<path d="M128,53.5 L133,52 L134.5,55 L130,56.5 Z" fill="#808080"/>
<path d="M108.0,32.4C109.0,32.5 111.7,32.7 114.0,33.2C116.3,33.7 119.3,34.5 122.0,35.5C124.7,36.5 127.8,38.2 130.0,39.5C132.2,40.8 134.1,41.9 135.5,43.0C136.9,44.1 137.8,44.9 138.6,46.2C139.4,47.5 140.1,49.1 140.6,51.0C141.1,52.9 141.3,55.3 141.6,57.5C141.9,59.7 142.1,62.0 142.4,64.0C142.7,66.0 143.2,68.6 143.4,69.5" fill="none" stroke="#de8c3a" stroke-width="4.8" stroke-linecap="round"/>
<path d="M118.0,31.5C119.3,32.0 123.5,33.2 126.0,34.5C128.5,35.8 130.9,37.8 133.0,39.5C135.1,41.2 137.6,44.1 138.5,45.0" fill="none" stroke="#f2b070" stroke-width="1.1"/>
<polygon points="77.0,37.0 78.5,33.0 81.0,30.5 84.0,31.0 90.0,32.0 98.5,35.0 101.5,37.0 101.0,42.0 98.5,46.0 96.5,49.0 95.5,54.0 90.0,54.5 85.0,53.5 81.0,51.5 78.0,50.5 75.5,47.0 76.6,43.5 75.0,40.5" fill="#de8c3a" stroke="#de8c3a" stroke-width="1" stroke-linejoin="round"/>
<polygon points="79.0,49.0 83.0,49.5 86.0,52.5 90.0,54.0 95.0,54.0 95.5,56.5 88.0,57.0 82.0,55.0 78.7,52.0" fill="#e2c030"/>
<path d="M78,28.5 V36.5" stroke="#e8d020" stroke-width="0.7"/>
<polygon points="82.4,24.2 86.0,22.6 90.0,21.8 95.0,22.6 100.0,24.6 106.0,27.4 112.0,30.6 118.0,33.6 122.5,36.2 118.0,36.6 112.0,36.0 106.0,35.4 100.0,35.0 95.0,34.2 90.0,33.0 86.0,30.5 83.5,27.5" fill="#e02828"/>
<path d="M86.5,25.6 C92,26.2 98,28 104,30.4 C108,32 112,33.6 116,35" fill="none" stroke="#ee8c8c" stroke-width="2.2"/>
<path d="M85,23.2 C90,22.4 96,23.6 102,26.4" fill="none" stroke="#f0d040" stroke-width="0.8"/>
<path d="M81.7,35.0C82.2,34.0 83.6,33.4 85.0,33.2C86.4,33.0 88.5,33.3 90.0,33.6C91.5,33.9 93.0,34.3 94.0,35.0C95.0,35.7 96.0,36.9 96.3,38.0C96.6,39.1 96.5,40.5 96.0,41.5C95.5,42.5 94.3,43.3 93.0,43.7C91.7,44.1 89.5,44.2 88.0,44.0C86.5,43.8 85.0,43.4 84.0,42.6C83.0,41.9 82.1,40.8 81.7,39.5C81.3,38.2 81.2,36.0 81.7,35.0Z" fill="#e02828"/>
<circle cx="88.7" cy="37.4" r="0.9" fill="#f030f0"/>
<path d="M51.6,34 C54,33 57,33.2 60.4,33.6 L60.4,35.6 C57,36.4 54,36.4 51.6,36 Z" fill="#dcd424"/>
<path d="M72,27.5 C74,26.8 75.5,27 76.5,27.4 L76.5,29 C75,29.4 73.5,29.3 72,29 Z" fill="#dcd424"/>
<path d="M67.0,39.3C68.2,38.0 70.4,37.7 72.0,37.2C73.6,36.7 75.8,35.4 76.5,36.4C77.2,37.4 76.8,41.1 76.5,43.0C76.2,44.9 75.5,46.3 75.0,48.0C74.5,49.7 73.9,51.3 73.6,53.2C73.3,55.1 72.8,57.8 73.0,59.5C73.2,61.2 74.0,62.2 74.5,63.5C75.0,64.8 76.2,66.8 76.0,67.5C75.8,68.2 74.0,68.7 73.0,68.0C72.0,67.3 70.5,64.9 69.8,63.5C69.0,62.1 69.1,61.1 68.5,59.5C67.9,57.9 66.9,56.4 66.3,54.0C65.7,51.6 64.7,47.7 64.8,45.2C64.9,42.8 65.8,40.6 67.0,39.3Z" fill="#c8c8f6" stroke="#30d8f0" stroke-width="0.8"/>
<ellipse cx="69.6" cy="48.1" rx="3" ry="2.1" fill="#1c1cc0" transform="rotate(25 69.6 48.1)"/>
<ellipse cx="69.8" cy="60.4" rx="2.0" ry="2.0" fill="#1c1cc0"/>
<path d="M76.8,58.6 l2,1.4 l0.4,3.4 l-1.6,1.2 l-1.4,-3 z" fill="#de8c3a"/><path d="M75.4,74.2 l2.2,0.8 l-0.4,2 l-2,-1 z" fill="#dcd424"/>
<path d="M122,70.2 C125,69 128.5,69.4 130.4,70.6 L130,72.6 C127,73.2 124,72.8 122,72.2 Z" fill="#dcd424"/>
<path d="M125.0,66.5C125.8,65.4 130.3,65.0 133.0,65.0C135.7,65.0 138.8,65.9 141.0,66.5C143.2,67.1 145.5,67.5 146.0,68.5C146.5,69.5 145.7,71.7 144.0,72.5C142.3,73.3 138.7,73.7 136.0,73.5C133.3,73.3 129.8,72.7 128.0,71.5C126.2,70.3 124.2,67.6 125.0,66.5Z" fill="#dcd424" opacity="0.8"/>
<path d="M100,63.5 L112,63 L112,64.6 L100,65 Z M116,60.5 L124,60.2 L124,62 L116,62 Z" fill="#dcd424" opacity="0.7"/>
<path d="M90,77.8 C91.5,75 96,74.6 102,75.4 C110,76.4 118,77.6 130,78.6 C122,80.6 108,81.2 98,81 C92,80.8 89.6,80 90,77.8 Z" fill="#1c1cc0" stroke="#30d8f0" stroke-width="0.8"/>
<path d="M88,82 H140" stroke="#de8c3a" stroke-width="0.7" opacity="0.8"/>
<rect x="164" y="58.4" width="7.6" height="4.6" fill="#30d8f0" opacity="0.55"/>
<path d="M150,57.4 H171.6" stroke="#e0b040" stroke-width="0.8"/>
<path d="M105.4,23.2 C103,26 99,33 97.3,37.1 C95,43 92.5,50 91.8,56 C91.6,60 92.5,63 94,65.2 C96,68.5 98,70.5 100.9,72 C105,74.4 110,75.5 114.6,76 C120,76.8 126,77.4 130,77 C136,76 140,72.5 143,69 C145.4,66 147.2,62.6 147.2,58.6 C147,54 145.6,49 144.4,45" fill="none" stroke="#e81c1c" stroke-width="0.8"/>
</g>
</g>
<g filter="url(#bl2)">
<g transform="translate(205,128.5)">
<path d="M1,35.7 H41 M140,35.7 H171.8" stroke="#5a5420" stroke-width="0.7" opacity="0.85"/>
<path d="M109.8,1 V17 M109.8,66 V114" stroke="#5a5420" stroke-width="0.7" opacity="0.85"/>
</g>
<g transform="translate(205,128.5)">
<path d="M4.9,86.6 l1.7,-1.9 h5.9 v7 l-1.7,1.9 h-5.9 z" fill="#34346c" stroke="#6464a8" stroke-width="0.5"/>
<path d="M4.9,86.6 h5.9 v7 M10.8,86.6 l1.7,-1.9" fill="none" stroke="#7c7cc0" stroke-width="0.45"/>
<path d="M6.6,88.2 h2.6 v3.8 h-2.6 z" fill="#5a5aa0" opacity="0.7"/>
<text x="2.7" y="100.4" font-size="3.4" fill="#dcdcdc" text-anchor="start" textLength="13.8" lengthAdjust="spacingAndGlyphs">Planning CT</text>
<text x="2.7" y="104.45" font-size="3.4" fill="#dcdcdc" text-anchor="start" textLength="14.4" lengthAdjust="spacingAndGlyphs">Chadia_ncls</text>
<text x="2.7" y="108.5" font-size="3.4" fill="#dcdcdc" text-anchor="start" textLength="26.6" lengthAdjust="spacingAndGlyphs">Transversal: -95.00 cm</text>
<text x="2.7" y="112.55" font-size="3.4" fill="#dcdcdc" text-anchor="start" textLength="16.9" lengthAdjust="spacingAndGlyphs">Slice 175/303</text>
<path d="M81.4,108.2 H118.6 M81.4,107 v2.4 M87.6,107.2 v2 M93.8,107.2 v2 M100,107.2 v2 M106.2,107.2 v2 M112.4,107.2 v2 M118.6,107 v2.4" stroke="#e6e6e6" stroke-width="0.6" fill="none"/>
<text x="81.4" y="112.6" font-size="2.8" fill="#d8d8d8" text-anchor="middle" >0</text>
<text x="87.60000000000001" y="112.6" font-size="2.8" fill="#d8d8d8" text-anchor="middle" >1</text>
<text x="93.80000000000001" y="112.6" font-size="2.8" fill="#d8d8d8" text-anchor="middle" >2</text>
<text x="100.0" y="112.6" font-size="2.8" fill="#d8d8d8" text-anchor="middle" >3</text>
<text x="106.2" y="112.6" font-size="2.8" fill="#d8d8d8" text-anchor="middle" >4</text>
<text x="112.4" y="112.6" font-size="2.8" fill="#d8d8d8" text-anchor="middle" >5</text>
<text x="118.60000000000001" y="112.6" font-size="2.8" fill="#d8d8d8" text-anchor="middle" >6</text>
<text x="120" y="108.6" font-size="2.6" fill="#d0d0d0" text-anchor="start" >cm</text>
<path d="M189.4,103 l1.3,-2.6 l1,1.6 z" fill="#3a5ad8"/><path d="M191.4,103 l1.2,-2.8 l1.4,2.8 z" fill="#e03030"/><path d="M190.4,103.2 h4" stroke="#dddddd" stroke-width="0.5"/>
</g>
</g>
<rect x="403.1" y="151.2" width="4.1" height="2.1" fill="#f030f0"/>
<rect x="403.1" y="153.3" width="4.1" height="8.1" fill="#f02020"/>
<rect x="403.1" y="161.4" width="4.1" height="7.6" fill="#f59a20"/>
<rect x="403.1" y="169" width="4.1" height="8.5" fill="#f0f020"/>
<rect x="403.1" y="192.5" width="4.1" height="8.9" fill="#20d8f0"/>
<rect x="403.1" y="201.4" width="4.1" height="7.5" fill="#2070e0"/>
<rect x="403.1" y="208.9" width="4.1" height="8.1" fill="#1818c0"/>
<rect x="403.1" y="217" width="4.1" height="1.0" fill="#c030c0"/>
<text x="396.3" y="153" font-size="7.3" fill="#f2f2f2" textLength="6.1" lengthAdjust="spacingAndGlyphs">25</text>
<text x="396.8" y="160.8" font-size="7.3" fill="#f2f2f2" textLength="5.6" lengthAdjust="spacingAndGlyphs">10</text>
<text x="399.3" y="169" font-size="7.3" fill="#f2f2f2" textLength="3.1" lengthAdjust="spacingAndGlyphs">5</text>
<text x="399.3" y="176.9" font-size="7.3" fill="#f2f2f2" textLength="3.1" lengthAdjust="spacingAndGlyphs">3</text>
<text x="399.3" y="185" font-size="7.3" fill="#f2f2f2" textLength="3.1" lengthAdjust="spacingAndGlyphs">0</text>
<text x="397.8" y="192.5" font-size="7.3" fill="#f2f2f2" textLength="4.6" lengthAdjust="spacingAndGlyphs">-3</text>
<text x="397.8" y="200.4" font-size="7.3" fill="#f2f2f2" textLength="4.6" lengthAdjust="spacingAndGlyphs">-5</text>
<text x="395.2" y="208.6" font-size="7.3" fill="#f2f2f2" textLength="7.2" lengthAdjust="spacingAndGlyphs">-10</text>
<text x="395.2" y="216.4" font-size="7.3" fill="#f2f2f2" textLength="7.2" lengthAdjust="spacingAndGlyphs">-25</text>
<text x="378.3" y="143.7" font-size="7.5" fill="#f2f2f2" textLength="28.2" lengthAdjust="spacingAndGlyphs">% of 200 cGy</text>
<g filter="url(#bl2)"><path d="M386.8,131 h3 v2.4 h-3 z" fill="#d8a040"/><path d="M393.2,130.4 v3.2 M392.1,132.4 l1.1,1.3 l1.1,-1.3" fill="none" stroke="#d8d8d8" stroke-width="0.6"/><path d="M398.4,130.8 a1.2,1.2 0 1,0 0.1,0 M399.4,132.9 l1.2,1.2" fill="none" stroke="#c8c8c8" stroke-width="0.55"/><path d="M403,130.4 l2.8,3.2 M405.8,130.4 l-2.8,3.2" fill="none" stroke="#c8c8c8" stroke-width="0.55"/></g>
<text x="270.6" y="144.6" font-size="11" fill="#ffffff" textLength="78.2" lengthAdjust="spacingAndGlyphs">Dose difference</text>
</g>
<g id="panelProfile">
<rect x="117.4" y="243.6" width="185.3" height="120" fill="#181818"/>
<rect x="128.4" y="250.8" width="172.8" height="104" fill="#141414"/>
<path d="M156.60,250.6 V354.6 M185.10,250.6 V354.6 M213.60,250.6 V354.6 M242.10,250.6 V354.6 M270.60,250.6 V354.6 M128,332.20 H300.6 M128,310.40 H300.6 M128,288.60 H300.6 M128,266.80 H300.6" stroke="#2c2c2c" stroke-width="0.6" fill="none"/>
<path d="M128.6,250.8 H301.2 V354.8 H128.6 Z" stroke="#484848" stroke-width="0.6" fill="none" stroke-dasharray="0.8,0.8"/>
<g filter="url(#bl2)">
<text x="126.4" y="355.0" font-size="2.8" fill="#d0d0d0" text-anchor="end" >0</text>
<text x="126.4" y="333.2" font-size="2.8" fill="#d0d0d0" text-anchor="end" >50</text>
<text x="126.4" y="311.4" font-size="2.8" fill="#d0d0d0" text-anchor="end" >100</text>
<text x="126.4" y="289.6" font-size="2.8" fill="#d0d0d0" text-anchor="end" >150</text>
<text x="126.4" y="267.8" font-size="2.8" fill="#d0d0d0" text-anchor="end" >200</text>
<text x="156.6" y="358.6" font-size="2.8" fill="#d0d0d0" text-anchor="middle" >2</text>
<text x="185.1" y="358.6" font-size="2.8" fill="#d0d0d0" text-anchor="middle" >4</text>
<text x="213.6" y="358.6" font-size="2.8" fill="#d0d0d0" text-anchor="middle" >6</text>
<text x="242.1" y="358.6" font-size="2.8" fill="#d0d0d0" text-anchor="middle" >8</text>
<text x="270.6" y="358.6" font-size="2.8" fill="#d0d0d0" text-anchor="middle" >10</text>
<text x="213.6" y="361.6" font-size="2.6" fill="#d0d0d0" text-anchor="middle" >[cm]</text>
<text x="209.5" y="248.4" font-size="3.1" fill="#e0e0e0" text-anchor="middle" >Line dose</text>
<text transform="translate(121.4,303) rotate(-90)" font-size="2.9" fill="#d0d0d0" text-anchor="middle">Dose (cGy)</text>
</g>
<g filter="url(#bl2)" fill="none" stroke-linejoin="round" stroke-linecap="round">
<path d="M129.5,354.4 H142.4 L144.4,330 L145.2,300 L145.3,272 C145.8,268.5 146.5,266.5 147.5,265.2 C149,263.2 150.5,262 152,261.5 C153,261.2 154,261 154.9,261.1 C156.2,261.4 157.4,262.4 158.5,263.7 C160,265.8 161.5,268.8 163,271.8 C164.4,274 165.8,275.8 167.3,277 C169,278.2 170.8,278.7 172.5,278.7 C174.2,278.6 176,278 177.6,277 C179.6,275.8 181.6,274.2 183.5,272.5 C185.4,271 187.4,269.7 189.3,268.9 C191.6,268.2 194,267.9 196.6,267.8 C205,268.6 215,269.3 225,269.2 C232,269 238,268.8 242,269.5 C246,269.4 250,268.6 253,267.6 C254.6,267 256,266.7 257,266.5 C259,265.4 260.6,264 262.1,263 C262.9,262.5 263.6,262.3 264.3,262.3 C265.6,262.6 266.8,263.8 268,265.2 C269,266.8 270,268.8 270.9,271 C271.5,272.8 272,274.8 272.4,277 C272.8,279 273.1,281.2 273.4,283.5 L274.8,292 L275.8,301 L277.2,330 L278.2,354.4" stroke="#5a1414" stroke-width="0.8"/>
<path d="M129.5,354.4 H142.4 L144.4,330 L145.2,300 L145.3,272 C145.8,268.5 146.5,266.5 147.5,265.2 C149,263.2 150.5,262 152,261.5 C153,261.2 154,261 154.9,261.1 C156.2,261.4 157.4,262.4 158.5,263.7 C160,265.8 161.5,268.8 163,271.8 C164.4,274 165.8,275.8 167.3,277 C169,278.2 170.8,278.7 172.5,278.7 C174.2,278.6 176,278 177.6,277 C179.6,275.8 181.6,274.2 183.5,272.5 C185.4,271 187.4,269.7 189.3,268.9 C191.6,268.2 194,267.9 196.6,267.8 C205,268.6 215,269.3 225,269.2 C232,269 238,268.8 242,269.5 C246,269.4 250,268.6 253,267.6 C254.6,267 256,266.7 257,266.5 C259,265.4 260.6,264 262.1,263 C262.9,262.5 263.6,262.3 264.3,262.3 C265.6,262.6 266.8,263.8 268,265.2 C269,266.8 270,268.8 270.9,271 C271.5,272.8 272,274.8 272.4,277 C272.8,279 273.1,281.2 273.4,283.5 L274.8,292 L275.8,301 L277.2,330 L278.2,354.4" stroke="#18c850" stroke-width="1.7" stroke-dasharray="6.5,3.2" stroke-dashoffset="3"/>
<path d="M129.5,354.4 H141.9 L143.6,330 L144.2,300 L144.2,260 L153.4,267.4 L160,265.5 C166,265.6 173,266.6 179,266.7 C185,266.6 191,265.6 196.6,265.2 C210,265.4 235,266.3 255,266.1 C258,266 259.5,266.1 260.7,266.3 C262,267 263.2,267.8 264.3,268.9 C265.6,270.4 266.8,272.2 268,274 C269.2,276 270.2,278 271,279.9 C271.8,282 272.5,284.4 273.1,286.5 C273.7,288.6 274.2,290.4 274.6,292 L275.6,301 L277,330 L278.1,354.5 H297.6" stroke="#18c850" stroke-width="1.8"/>
</g>
<rect x="124.4" y="356.4" width="11.1" height="6.9" fill="#000000"/>
<rect x="289.5" y="356.4" width="9.6" height="6.9" fill="#000000"/>
<text x="132.2" y="362.2" font-size="6.9" fill="#ffffff" text-anchor="middle">0</text>
<text x="291.1" y="362.3" font-size="6.8" fill="#ffffff" textLength="6.9" lengthAdjust="spacingAndGlyphs">12</text>
<text x="177" y="261.5" font-size="9.9" fill="#ffffff" textLength="12.5" lengthAdjust="spacingAndGlyphs">PB</text>
<text x="177.8" y="291.6" font-size="10.3" fill="#ffffff" textLength="17" lengthAdjust="spacingAndGlyphs">MC</text>
<text x="188.2" y="349.6" font-size="10.3" fill="#ffffff" textLength="59.9" lengthAdjust="spacingAndGlyphs">Dose Profile</text>
</g>
</svg></body></html>
